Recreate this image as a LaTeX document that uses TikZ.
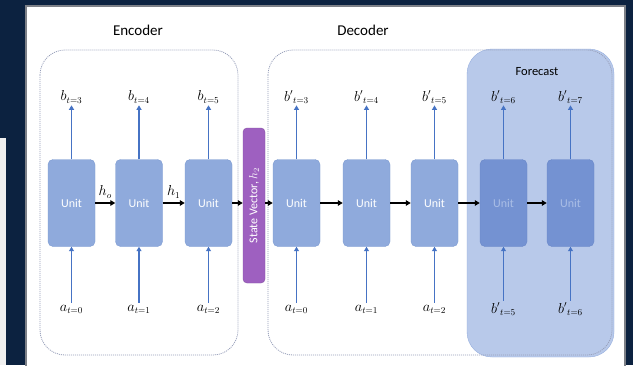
\documentclass[tikz,border=0pt]{standalone}
\usepackage{fontspec}
\setmainfont{Carlito}
\usetikzlibrary{arrows.meta}

\definecolor{navy}{RGB}{12,34,64}
\definecolor{panelgrey}{RGB}{125,128,135}
\definecolor{dotgrey}{RGB}{150,158,185}
\definecolor{unitblue}{RGB}{143,170,220}
\definecolor{unitedge}{RGB}{125,155,210}
\definecolor{fcblue}{RGB}{116,146,210}
\definecolor{fcedge}{RGB}{105,135,200}
\definecolor{fctext}{RGB}{170,190,230}
\definecolor{fcfill}{RGB}{184,201,234}
\definecolor{fcline}{RGB}{150,175,222}
\definecolor{svpurple}{RGB}{158,96,192}
\definecolor{arrowblue}{RGB}{70,115,196}

\tikzset{
  unit/.style={draw=unitedge, fill=unitblue, rounded corners=5pt,
    minimum width=47pt, minimum height=87pt, text=white,
    font=\fontsize{12}{14}\selectfont},
  fcunit/.style={unit, draw=fcedge, fill=fcblue, text=fctext},
  statevec/.style={draw=svpurple!85!black, fill=svpurple, rounded corners=4pt,
    rotate=90, minimum width=155pt, minimum height=22pt, text=white,
    font=\fontsize{12}{14}\selectfont},
  lbl/.style={font=\fontsize{13.5}{15}\selectfont, inner sep=2pt},
  hlbl/.style={lbl, anchor=south, yshift=2pt},
  head/.style={font=\fontsize{15}{17}\selectfont},
  group/.style={draw=dotgrey, line width=0.8pt, dash pattern=on 1pt off 1pt,
    rounded corners=25pt},
  up/.style={draw=arrowblue, line width=1.7pt, -{Triangle[length=4.5pt,width=5pt]}},
  fwd/.style={draw=black, line width=1.8pt, -{Triangle[length=5pt,width=5.5pt]}},
}

\begin{document}
\begin{tikzpicture}[x=1pt,y=-1pt]
    \clip (0,0) rectangle (633,365);
    %screen
    \fill[navy] (0,0) rectangle (633,365);
    \fill[gray!12] (0,138) rectangle (6,365);
    \draw[panelgrey, line width=2pt, fill=white] (26,6) rectangle (625,372);

    %forecast
    \draw[fcline, fill=fcfill, rounded corners=25pt] (467,49) rectangle (614,357);
    \node[font=\fontsize{12.5}{14}\selectfont] (fc) at (537,72) {Forecast};

    %encoder
    \node[head] (enc) at (138,30) {Encoder};
    \draw[group] (40,50) rectangle (238,355);
    \node[unit] (e1) at (71.5,203) {Unit};
    \node[unit] (e2) at (139,203) {Unit};
    \node[unit] (e3) at (208.5,203) {Unit};
    \node[lbl] (eo1) at (71.5,97) {$b_{t=3}$};
    \node[lbl] (eo2) at (139,97) {$b_{t=4}$};
    \node[lbl] (eo3) at (208.5,97) {$b_{t=5}$};
    \node[lbl] (ei1) at (71.5,309) {$a_{t=0}$};
    \node[lbl] (ei2) at (139,309) {$a_{t=1}$};
    \node[lbl] (ei3) at (208.5,309) {$a_{t=2}$};

    %state vector
    \node[statevec] (sv) at (254,205.5) {State Vector, $h_2$};

    %decoder
    \node[head] (dec) at (363,30) {Decoder};
    \draw[group] (268,50) rectangle (612,355);
    \node[unit] (d1) at (296.5,203) {Unit};
    \node[unit] (d2) at (366.5,203) {Unit};
    \node[unit] (d3) at (434.5,203) {Unit};
    \node[fcunit] (d4) at (503.5,203) {Unit};
    \node[fcunit] (d5) at (570.5,203) {Unit};
    \node[lbl] (do1) at (296.5,97) {${b'}_{t=3}$};
    \node[lbl] (do2) at (366.5,97) {${b'}_{t=4}$};
    \node[lbl] (do3) at (434.5,97) {${b'}_{t=5}$};
    \node[lbl] (do4) at (503.5,97) {${b'}_{t=6}$};
    \node[lbl] (do5) at (570.5,97) {${b'}_{t=7}$};
    \node[lbl] (di1) at (296.5,309) {$a_{t=0}$};
    \node[lbl] (di2) at (366.5,309) {$a_{t=1}$};
    \node[lbl] (di3) at (434.5,309) {$a_{t=2}$};
    \node[lbl] (di4) at (503.5,309) {${b'}_{t=5}$};
    \node[lbl] (di5) at (570.5,309) {${b'}_{t=6}$};

    %inputs and outputs
    \draw[up] (ei1) -- (e1);  \draw[up] (e1) -- (eo1);
    \draw[up] (ei2) -- (e2);  \draw[up] (e2) -- (eo2);
    \draw[up] (ei3) -- (e3);  \draw[up] (e3) -- (eo3);
    \draw[up] (di1) -- (d1);  \draw[up] (d1) -- (do1);
    \draw[up] (di2) -- (d2);  \draw[up] (d2) -- (do2);
    \draw[up] (di3) -- (d3);  \draw[up] (d3) -- (do3);
    \draw[up] (di4) -- (d4);  \draw[up] (d4) -- (do4);
    \draw[up] (di5) -- (d5);  \draw[up] (d5) -- (do5);

    %hidden states
    \draw[fwd] (e1) -- node[hlbl] {$h_o$} (e2);
    \draw[fwd] (e2) -- node[hlbl] {$h_1$} (e3);
    \draw[fwd] (e3.east) -- (e3.east -| sv.north);
    \draw[fwd] (sv.south |- d1.west) -- (d1.west);
    \draw[fwd] (d1) -- (d2);
    \draw[fwd] (d2) -- (d3);
    \draw[fwd] (d3) -- (d4);
    \draw[fwd] (d4) -- (d5);
\end{tikzpicture}
\end{document}
